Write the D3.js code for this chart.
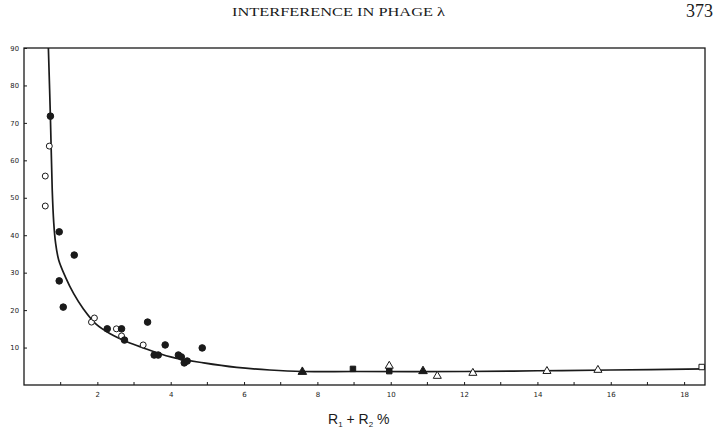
<!DOCTYPE html>
<html><head><meta charset="utf-8">
<script src="https://cdn.jsdelivr.net/npm/d3@7"></script>
<style>body{margin:0;background:#fff}svg{display:block}</style>
</head><body>
<svg id="c" width="715" height="430"></svg>
<script>
// Data
const filledCircles = [[0.72,71.8],[0.96,40.9],[1.37,34.7],[0.96,27.8],[1.07,20.8],[3.37,16.8],[2.27,15.0],[2.66,15.0],[2.74,12.0],[3.85,10.7],[4.86,9.9],[3.55,8.0],[3.66,8.0],[4.21,8.0],[4.29,7.5],[4.37,5.9],[4.45,6.4]];
const openCircles = [[0.69,63.8],[0.58,55.8],[0.58,47.8],[1.84,16.8],[1.92,17.9],[2.52,15.0],[2.66,13.1],[3.25,10.7]];
const filledTriangles = [[7.59,3.5],[10.88,3.7]];
const filledSquares = [[8.97,4.3],[9.96,3.7]];
const openTriangles = [[9.96,5.1],[11.27,2.4],[12.24,3.2],[14.26,3.7],[15.65,4.0]];
const openSquares = [[18.48,4.8]];
const curveX = [0.665,0.72,0.77,0.81,0.86,0.946,1.128,1.355,1.62,1.95,2.35,2.82,3.2,4.0,4.9,5.8,6.7,7.6,9,12,14,16,18.57];
const curveY = [90,71.6,52,43.5,38,33.4,28.9,24.4,20.3,16.4,13.7,11.5,10.1,7.5,5.9,4.7,4.0,3.6,3.6,3.6,3.8,4.0,4.3];
const xTickLabels = [2,4,6,8,10,12,14,16,18];
const xMinorTicks = [1,3,5,7,9,11,13,15,17];
const yTickLabels = [10,20,30,40,50,60,70,80,90];
const titleText = "INTERFERENCE IN PHAGE λ";
const pageNumber = "373";

const svg = d3.select("#c");
const L=24, R=705, T=48, B=385;
const x = d3.scaleLinear().domain([0,18.57]).range([L,R]);
const y = d3.scaleLinear().domain([0,90]).range([B,T]);
const ink = "#1a1a1a";

// header
svg.append("text").attr("x",232).attr("y",16).attr("textLength",213).attr("lengthAdjust","spacingAndGlyphs")
  .attr("font-family","Liberation Serif").attr("font-size",12.5).attr("fill",ink).text(titleText);
svg.append("text").attr("x",713).attr("y",17).attr("text-anchor","end")
  .attr("font-family","Liberation Serif").attr("font-size",18).attr("fill",ink).text(pageNumber);

// frame
svg.append("rect").attr("x",L).attr("y",T).attr("width",R-L).attr("height",B-T)
  .attr("fill","none").attr("stroke",ink).attr("stroke-width",1.3);

// x axis
const xAxis = d3.axisBottom(x).tickValues(xTickLabels).tickSize(-3).tickPadding(7).tickFormat(d3.format("d"));
const gx = svg.append("g").attr("transform",`translate(0,${B})`).call(xAxis);
gx.select(".domain").remove();
gx.selectAll("line").attr("stroke",ink);
gx.selectAll("text").attr("font-family","DejaVu Sans").attr("font-size",7).attr("fill",ink);
svg.append("g").selectAll("line").data(xMinorTicks).join("line")
  .attr("x1",d=>x(d)).attr("x2",d=>x(d)).attr("y1",B).attr("y2",B-3).attr("stroke",ink);

// y axis
const yAxis = d3.axisLeft(y).tickValues(yTickLabels).tickSize(-3).tickPadding(5).tickFormat(d3.format("d"));
const gy = svg.append("g").attr("transform",`translate(${L},0)`).call(yAxis);
gy.select(".domain").remove();
gy.selectAll("line").attr("stroke",ink);
gy.selectAll("text").attr("font-family","DejaVu Sans").attr("font-size",6.8).attr("fill",ink);

// curve
const pts = curveX.map((v,i)=>[v,curveY[i]]);
svg.append("path").datum(pts)
  .attr("d", d3.line().x(d=>x(d[0])).y(d=>y(d[1])).curve(d3.curveCatmullRom.alpha(0.5)))
  .attr("fill","none").attr("stroke",ink).attr("stroke-width",1.7);

// markers
const sym = (type,size)=>d3.symbol().type(type).size(size)();
function plot(data,type,size,filled){
  svg.append("g").selectAll("path").data(data).join("path")
    .attr("transform",d=>`translate(${x(d[0])},${y(d[1])})`)
    .attr("d",sym(type,size))
    .attr("fill",filled?ink:"#fff").attr("stroke",ink).attr("stroke-width",1);
}
plot(openCircles,d3.symbolCircle,28,false);
plot(filledCircles,d3.symbolCircle,34,true);
plot(openTriangles,d3.symbolTriangle,28,false);
plot(filledTriangles,d3.symbolTriangle,32,true);
plot(filledSquares,d3.symbolSquare,30,true);
plot(openSquares,d3.symbolSquare,30,false);

// x label
const xl = svg.append("text").attr("x",328).attr("y",424)
  .attr("font-family","Liberation Sans").attr("font-size",14).attr("fill",ink);
xl.append("tspan").text("R");
xl.append("tspan").attr("font-size",8).attr("dy",3).text("1");
xl.append("tspan").attr("dy",-3).text(" + R");
xl.append("tspan").attr("font-size",8).attr("dy",3).text("2");
xl.append("tspan").attr("dy",-3).text(" %");
</script>
</body></html>
